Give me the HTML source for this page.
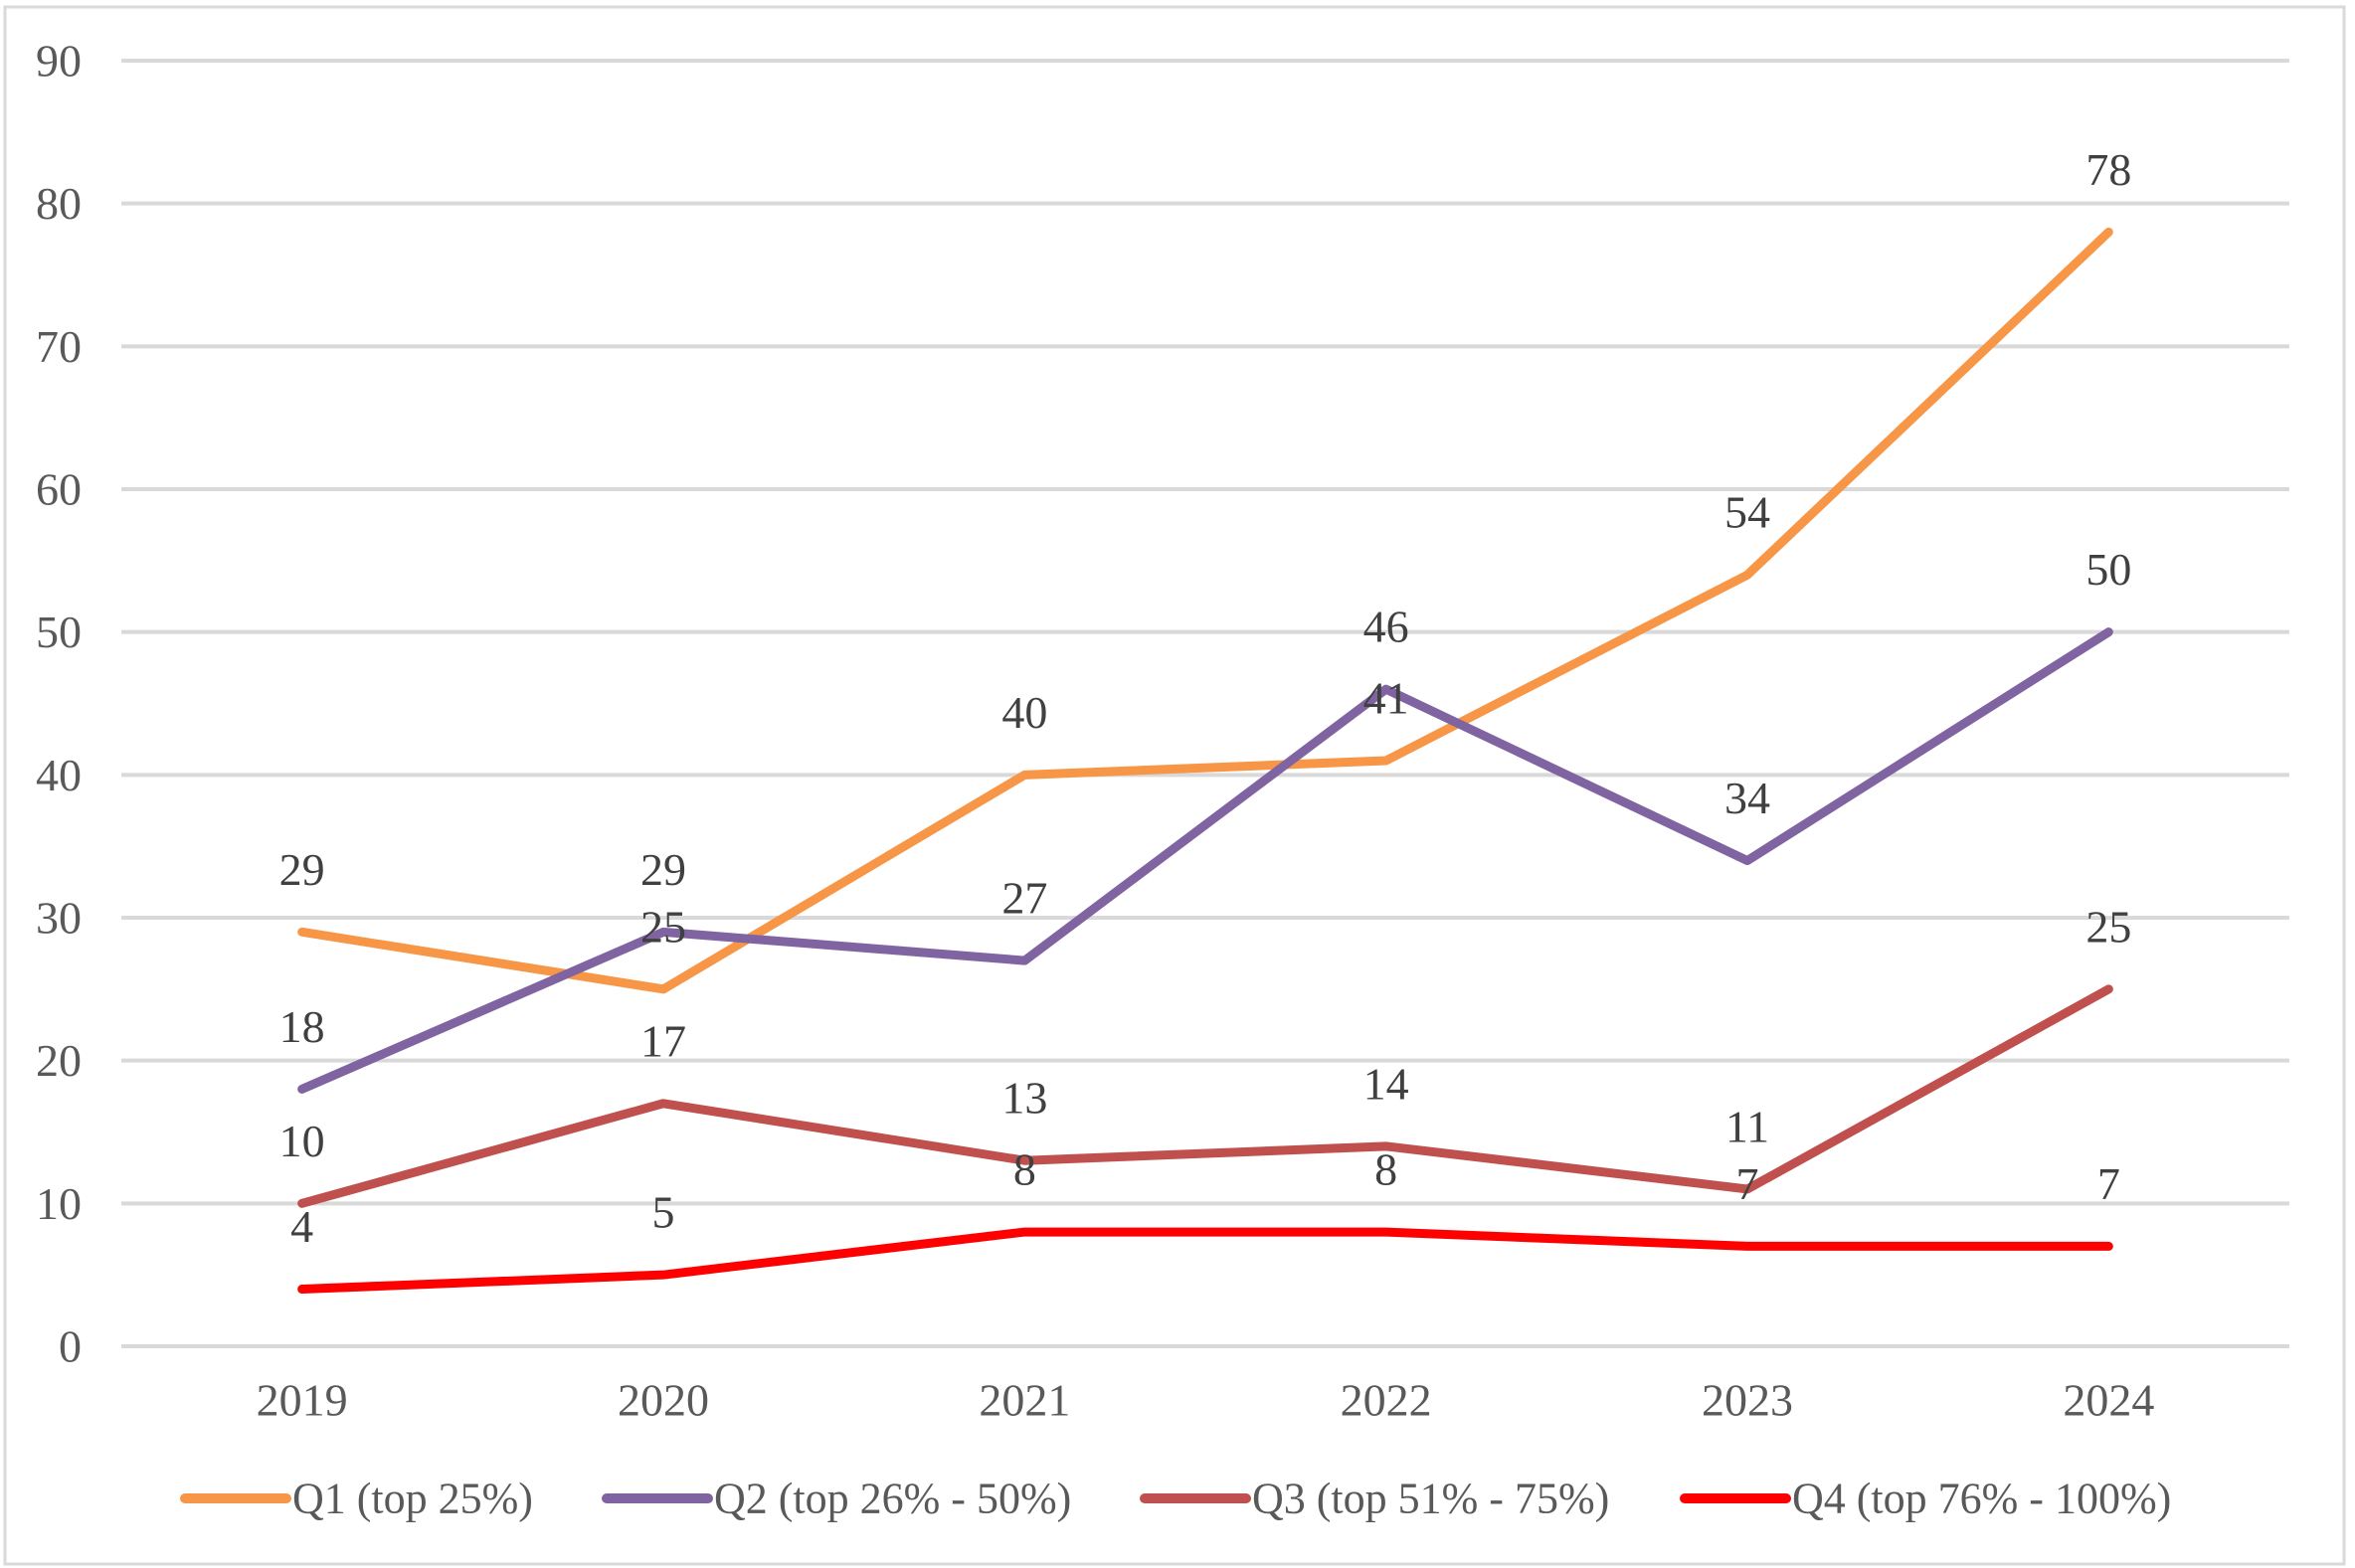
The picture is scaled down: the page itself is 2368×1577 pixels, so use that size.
<!DOCTYPE html>
<html><head><meta charset="utf-8"><style>
html,body{margin:0;padding:0;background:#fff;}
svg{display:block;font-family:"Liberation Serif",serif;}
</style></head><body>
<svg id="chart" width="2368" height="1577">
<rect x="5" y="7" width="2352" height="1566" fill="#fff" stroke="#d9d9d9" stroke-width="3"/>
<g id="grid"></g><g id="series"></g><g id="labels"></g><g id="legend"></g>
</svg>
<script>
const categories = ["2019","2020","2021","2022","2023","2024"];
const yTicks = [0,10,20,30,40,50,60,70,80,90];
const seriesNames = ["Q1 (top 25%)","Q2 (top 26% - 50%)","Q3 (top 51% - 75%)","Q4 (top 76% - 100%)"];
const q1 = [29,25,40,41,54,78];
const q2 = [18,29,27,46,34,50];
const q3 = [10,17,13,14,11,25];
const q4 = [4,5,8,8,7,7];
const seriesValues = [q1,q2,q3,q4];
const colors = ["#F79646","#8064A2","#C0504D","#FF0000"];

const NS="http://www.w3.org/2000/svg";
const plotLeft=122,plotRight=2302,plotTop=61,plotBottom=1354,yMax=90;
const band=(plotRight-plotLeft)/categories.length;
function xScale(i){return plotLeft+band*(i+0.5);}
function yScale(v){return plotBottom-(v/yMax)*(plotBottom-plotTop);}
function mk(tag,attrs,parent){const e=document.createElementNS(NS,tag);for(const k in attrs)e.setAttribute(k,attrs[k]);parent.appendChild(e);return e;}
const grid=document.getElementById('grid');
yTicks.forEach(t=>{
  const l=mk('line',{x1:plotLeft,x2:plotRight,y1:yScale(t),y2:yScale(t),stroke:'#d9d9d9','stroke-width':4},grid);
  
  
  const tx=mk('text',{x:82,y:yScale(t),'text-anchor':'end','dominant-baseline':'central','font-size':46,fill:'#595959'},grid);
  tx.textContent=t;
  
  
});
categories.forEach((c,i)=>{
  const tx=mk('text',{x:xScale(i),y:1408,'text-anchor':'middle','dominant-baseline':'central','font-size':46,fill:'#595959'},grid);
  tx.textContent=c;
  
  
});
const sg=document.getElementById('series'),lg=document.getElementById('labels');
seriesValues.forEach((vals,s)=>{
  const pts=vals.map((v,i)=>xScale(i)+','+yScale(v)).join(' ');
  const p=mk('polyline',{points:pts,fill:'none',stroke:colors[s],'stroke-width':9,'stroke-linejoin':'round','stroke-linecap':'round'},sg);
  
  
  vals.forEach((v,i)=>{
    const tx=mk('text',{x:xScale(i),y:yScale(v)-63,'text-anchor':'middle','dominant-baseline':'central','font-size':46,fill:'#404040'},lg);
    tx.textContent=v;
    
    
  });
});
const legend=document.getElementById('legend');
const legX=[186,610,1151,1694];
seriesNames.forEach((n,s)=>{
  const g=mk('g',{},legend);
  
  
  mk('line',{x1:legX[s],x2:legX[s]+102,y1:1507,y2:1507,stroke:colors[s],'stroke-width':10,'stroke-linecap':'round'},g);
  const tx=mk('text',{x:legX[s]+108,y:1507,'dominant-baseline':'central','font-size':44,fill:'#595959'},g);
  tx.textContent=n;
});
</script>
</body></html>
